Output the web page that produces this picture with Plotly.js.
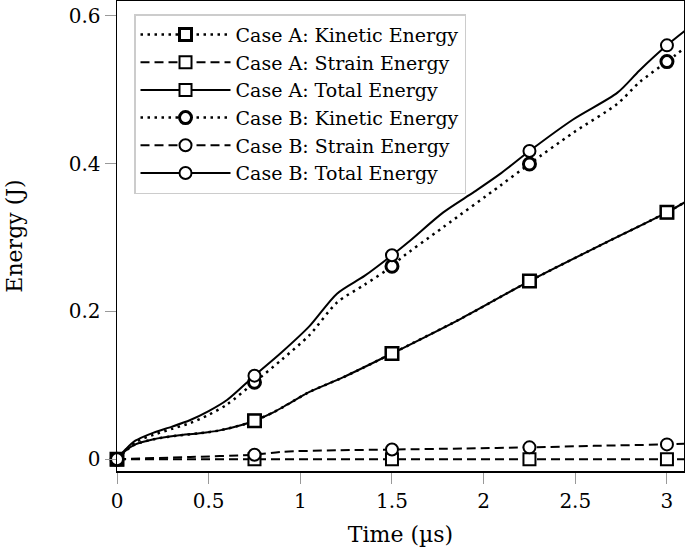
<!DOCTYPE html>
<html>
<head>
<meta charset="utf-8">
<script src="https://cdn.plot.ly/plotly-3.0.1.min.js"></script>
<style>html,body{margin:0;padding:0;background:#fff;}#chart{width:685px;height:549px;}</style>
</head>
<body>
<div id="chart"></div>
<script>
// ---- data ----
var seriesNames = ["Case A: Kinetic Energy", "Case A: Strain Energy", "Case A: Total Energy",
                   "Case B: Kinetic Energy", "Case B: Strain Energy", "Case B: Total Energy"];

var tA = [0, 0.05, 0.1, 0.2, 0.33, 0.45, 0.56, 0.69, 0.75, 0.85, 0.93, 1.05, 1.235, 1.5, 1.875, 2.25, 2.625, 3.0, 3.1];
var totalA = [0, 0.012, 0.02, 0.027, 0.032, 0.035, 0.039, 0.047, 0.052, 0.063, 0.074, 0.091, 0.111, 0.143, 0.19, 0.241, 0.288, 0.334, 0.348];
var kineticA = [0, 0.012, 0.02, 0.027, 0.032, 0.035, 0.039, 0.047, 0.052, 0.063, 0.074, 0.091, 0.111, 0.143, 0.19, 0.241, 0.288, 0.334, 0.348];
var tStrainA = [0, 3.1];
var strainA = [0, 0];

var tTotalB = [0, 0.05, 0.1, 0.2, 0.3, 0.4, 0.5, 0.6, 0.75, 0.9, 1.05, 1.2, 1.35, 1.5, 1.6, 1.78, 1.95, 2.09, 2.25, 2.49, 2.73, 2.85, 3.0, 3.1];
var totalB = [0, 0.014, 0.025, 0.036, 0.044, 0.053, 0.065, 0.08, 0.113, 0.145, 0.18, 0.224, 0.248, 0.276, 0.296, 0.334, 0.362, 0.386, 0.417, 0.46, 0.496, 0.526, 0.56, 0.58];
var tKineticB = [0, 0.1, 0.2, 0.3, 0.4, 0.5, 0.6, 0.75, 0.9, 1.05, 1.2, 1.35, 1.5, 1.544, 1.78, 2.09, 2.25, 2.49, 2.73, 2.85, 3.0, 3.1];
var kineticB = [0, 0.023, 0.033, 0.041, 0.049, 0.06, 0.074, 0.104, 0.135, 0.168, 0.212, 0.236, 0.261, 0.271, 0.314, 0.37, 0.3995, 0.442, 0.481, 0.51, 0.538, 0.557];
var tStrainB = [0, 0.4, 0.75, 0.9, 1.2, 1.5, 1.9, 2.25, 2.6, 3.0, 3.1];
var strainB = [0, 0.003, 0.006, 0.010, 0.012, 0.013, 0.0145, 0.016, 0.018, 0.020, 0.021];

var markerT = [0, 0.75, 1.5, 2.25, 3];
var markKineticA = [0, 0.052, 0.143, 0.241, 0.334];
var markStrainA = [0, 0, 0, 0, 0];
var markTotalA = [0, 0.052, 0.143, 0.241, 0.334];
var markKineticB = [0, 0.104, 0.261, 0.3995, 0.538];
var markStrainB = [0, 0.006, 0.013, 0.016, 0.020];
var markTotalB = [0, 0.113, 0.276, 0.417, 0.560];

var xTicks = [0, 0.5, 1, 1.5, 2, 2.5, 3];
var yTicks = [0, 0.2, 0.4, 0.6];

// ---- styles ----
var FONT = "DejaVu Serif, serif";
var dashDot = "2.5px,4.5px", dashDash = "9px,5px";
var specs = [
  {name: seriesNames[0], t: tA, y: kineticA, my: markKineticA, dash: dashDot, lw: 2.5, sym: "square", mlw: 3},
  {name: seriesNames[1], t: tStrainA, y: strainA, my: markStrainA, dash: dashDash, lw: 2, sym: "square", mlw: 2},
  {name: seriesNames[2], t: tA, y: totalA, my: markTotalA, dash: "solid", lw: 2, sym: "square", mlw: 2},
  {name: seriesNames[3], t: tKineticB, y: kineticB, my: markKineticB, dash: dashDot, lw: 2.5, sym: "circle", mlw: 3},
  {name: seriesNames[4], t: tStrainB, y: strainB, my: markStrainB, dash: dashDash, lw: 2, sym: "circle", mlw: 2},
  {name: seriesNames[5], t: tTotalB, y: totalB, my: markTotalB, dash: "solid", lw: 2, sym: "circle", mlw: 2}
];

var lineTraces = [], markerTraces = [], legendTraces = [];
specs.forEach(function (s) {
  var msize = 12;
  lineTraces.push({
    x: s.t, y: s.y, type: "scatter", mode: "lines", showlegend: false, hoverinfo: "skip",
    line: {color: "black", width: s.lw, dash: s.dash, shape: "spline", smoothing: 0.8}
  });
  markerTraces.push({
    x: markerT, y: s.my, type: "scatter", mode: "markers", showlegend: false, cliponaxis: false, hoverinfo: "skip",
    marker: {symbol: s.sym, size: msize, color: "white", line: {color: "black", width: s.mlw}}
  });
  legendTraces.push({
    x: [null], y: [null], type: "scatter", mode: "lines+markers", name: s.name,
    line: {color: "black", width: s.lw, dash: s.dash},
    marker: {symbol: s.sym, size: msize, color: "white", line: {color: "black", width: s.mlw}}
  });
});

var data = lineTraces.concat(markerTraces).concat(legendTraces);

var axisCommon = {
  showgrid: false, zeroline: false, showline: true, mirror: true,
  linecolor: "black", linewidth: 1.5,
  ticks: "outside", tickcolor: "#999", ticklen: 11, tickwidth: 1,
  tickfont: {family: FONT, size: 20, color: "black"}
};

var layout = {
  width: 685, height: 549,
  margin: {l: 117, r: 1, t: 1, b: 78},
  paper_bgcolor: "white", plot_bgcolor: "white",
  showlegend: true,
  xaxis: Object.assign({}, axisCommon, {
    range: [0, 3.093], tickvals: xTicks,
    title: {text: "Time (µs)", font: {family: FONT, size: 22, color: "black"}, standoff: 15}
  }),
  yaxis: Object.assign({}, axisCommon, {
    range: [-0.016, 0.62], tickvals: yTicks,
    title: {text: "Energy (J)", font: {family: FONT, size: 22, color: "black"}, standoff: 40}
  }),
  legend: {
    x: 0.03, y: 0.972, xanchor: "left", yanchor: "top",
    bgcolor: "white", bordercolor: "#cccccc", borderwidth: 1.5,
    font: {family: FONT, size: 19, color: "black"},
    itemwidth: 90, tracegroupgap: 0
  }
};

Plotly.newPlot("chart", data, layout, {displayModeBar: false, staticPlot: true});
</script>
</body>
</html>
